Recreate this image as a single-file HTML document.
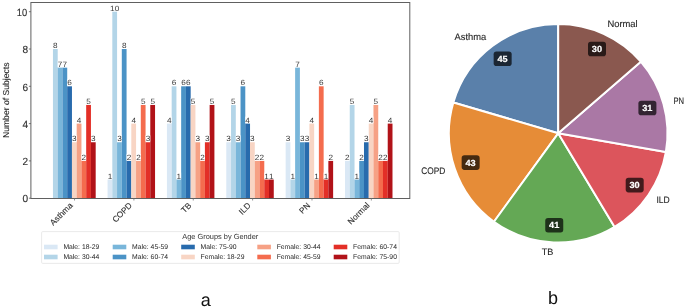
<!DOCTYPE html><html><head><meta charset="utf-8"><style>
html,body{margin:0;padding:0;background:#fff;width:685px;height:307px;overflow:hidden}
svg{display:block;will-change:transform}text{font-family:"Liberation Sans", sans-serif;text-rendering:geometricPrecision}
</style></head><body>
<svg width="685" height="307" viewBox="0 0 685 307">
<rect width="685" height="307" fill="#fff"/>
<rect x="52.95" y="49.00" width="4.767" height="149.20" fill="#b3d5e8"/>
<rect x="57.69" y="67.65" width="4.767" height="130.55" fill="#79b6da"/>
<rect x="62.44" y="67.65" width="4.767" height="130.55" fill="#4b93c6"/>
<rect x="67.19" y="86.30" width="4.767" height="111.90" fill="#286bad"/>
<rect x="71.94" y="142.25" width="4.767" height="55.95" fill="#f8d5c4"/>
<rect x="76.68" y="123.60" width="4.767" height="74.60" fill="#f6a185"/>
<rect x="81.43" y="160.90" width="4.767" height="37.30" fill="#f46c4e"/>
<rect x="86.18" y="104.95" width="4.767" height="93.25" fill="#e32f27"/>
<rect x="90.92" y="142.25" width="4.767" height="55.95" fill="#b11218"/>
<rect x="107.56" y="179.55" width="4.767" height="18.65" fill="#dae8f5"/>
<rect x="112.31" y="11.70" width="4.767" height="186.50" fill="#b3d5e8"/>
<rect x="117.05" y="142.25" width="4.767" height="55.95" fill="#79b6da"/>
<rect x="121.80" y="49.00" width="4.767" height="149.20" fill="#4b93c6"/>
<rect x="126.55" y="160.90" width="4.767" height="37.30" fill="#286bad"/>
<rect x="131.30" y="123.60" width="4.767" height="74.60" fill="#f8d5c4"/>
<rect x="136.04" y="160.90" width="4.767" height="37.30" fill="#f6a185"/>
<rect x="140.79" y="104.95" width="4.767" height="93.25" fill="#f46c4e"/>
<rect x="145.54" y="142.25" width="4.767" height="55.95" fill="#e32f27"/>
<rect x="150.28" y="104.95" width="4.767" height="93.25" fill="#b11218"/>
<rect x="166.92" y="123.60" width="4.767" height="74.60" fill="#dae8f5"/>
<rect x="171.67" y="86.30" width="4.767" height="111.90" fill="#b3d5e8"/>
<rect x="176.41" y="179.55" width="4.767" height="18.65" fill="#79b6da"/>
<rect x="181.16" y="86.30" width="4.767" height="111.90" fill="#4b93c6"/>
<rect x="185.91" y="86.30" width="4.767" height="111.90" fill="#286bad"/>
<rect x="190.66" y="104.95" width="4.767" height="93.25" fill="#f8d5c4"/>
<rect x="195.40" y="142.25" width="4.767" height="55.95" fill="#f6a185"/>
<rect x="200.15" y="160.90" width="4.767" height="37.30" fill="#f46c4e"/>
<rect x="204.90" y="142.25" width="4.767" height="55.95" fill="#e32f27"/>
<rect x="209.64" y="104.95" width="4.767" height="93.25" fill="#b11218"/>
<rect x="226.28" y="142.25" width="4.767" height="55.95" fill="#dae8f5"/>
<rect x="231.03" y="104.95" width="4.767" height="93.25" fill="#b3d5e8"/>
<rect x="235.77" y="142.25" width="4.767" height="55.95" fill="#79b6da"/>
<rect x="240.52" y="86.30" width="4.767" height="111.90" fill="#4b93c6"/>
<rect x="245.27" y="123.60" width="4.767" height="74.60" fill="#286bad"/>
<rect x="250.01" y="142.25" width="4.767" height="55.95" fill="#f8d5c4"/>
<rect x="254.76" y="160.90" width="4.767" height="37.30" fill="#f6a185"/>
<rect x="259.51" y="160.90" width="4.767" height="37.30" fill="#f46c4e"/>
<rect x="264.26" y="179.55" width="4.767" height="18.65" fill="#e32f27"/>
<rect x="269.00" y="179.55" width="4.767" height="18.65" fill="#b11218"/>
<rect x="285.64" y="142.25" width="4.767" height="55.95" fill="#dae8f5"/>
<rect x="290.39" y="179.55" width="4.767" height="18.65" fill="#b3d5e8"/>
<rect x="295.13" y="67.65" width="4.767" height="130.55" fill="#79b6da"/>
<rect x="299.88" y="142.25" width="4.767" height="55.95" fill="#4b93c6"/>
<rect x="304.63" y="142.25" width="4.767" height="55.95" fill="#286bad"/>
<rect x="309.38" y="123.60" width="4.767" height="74.60" fill="#f8d5c4"/>
<rect x="314.12" y="179.55" width="4.767" height="18.65" fill="#f6a185"/>
<rect x="318.87" y="86.30" width="4.767" height="111.90" fill="#f46c4e"/>
<rect x="323.62" y="179.55" width="4.767" height="18.65" fill="#e32f27"/>
<rect x="328.36" y="160.90" width="4.767" height="37.30" fill="#b11218"/>
<rect x="345.00" y="160.90" width="4.767" height="37.30" fill="#dae8f5"/>
<rect x="349.75" y="104.95" width="4.767" height="93.25" fill="#b3d5e8"/>
<rect x="354.49" y="179.55" width="4.767" height="18.65" fill="#79b6da"/>
<rect x="359.24" y="160.90" width="4.767" height="37.30" fill="#4b93c6"/>
<rect x="363.99" y="142.25" width="4.767" height="55.95" fill="#286bad"/>
<rect x="368.74" y="123.60" width="4.767" height="74.60" fill="#f8d5c4"/>
<rect x="373.48" y="104.95" width="4.767" height="93.25" fill="#f6a185"/>
<rect x="378.23" y="160.90" width="4.767" height="37.30" fill="#f46c4e"/>
<rect x="382.98" y="160.90" width="4.767" height="37.30" fill="#e32f27"/>
<rect x="387.72" y="123.60" width="4.767" height="74.60" fill="#b11218"/>
<rect x="53.02" y="42.00" width="4.60" height="6.30" fill="#fff"/>
<text transform="translate(55.32,48.00) scale(1.08,1)" font-size="7.6" fill="#3a3a3a" text-anchor="middle">8</text>
<rect x="57.77" y="60.65" width="4.60" height="6.30" fill="#fff"/>
<text transform="translate(60.07,66.65) scale(1.08,1)" font-size="7.6" fill="#3a3a3a" text-anchor="middle">7</text>
<rect x="62.51" y="60.65" width="4.60" height="6.30" fill="#fff"/>
<text transform="translate(64.81,66.65) scale(1.08,1)" font-size="7.6" fill="#3a3a3a" text-anchor="middle">7</text>
<rect x="67.26" y="79.30" width="4.60" height="6.30" fill="#fff"/>
<text transform="translate(69.56,85.30) scale(1.08,1)" font-size="7.6" fill="#3a3a3a" text-anchor="middle">6</text>
<rect x="72.01" y="135.25" width="4.60" height="6.30" fill="#fff"/>
<text transform="translate(74.31,141.25) scale(1.08,1)" font-size="7.6" fill="#3a3a3a" text-anchor="middle">3</text>
<rect x="76.76" y="116.60" width="4.60" height="6.30" fill="#fff"/>
<text transform="translate(79.06,122.60) scale(1.08,1)" font-size="7.6" fill="#3a3a3a" text-anchor="middle">4</text>
<rect x="81.50" y="153.90" width="4.60" height="6.30" fill="#fff"/>
<text transform="translate(83.80,159.90) scale(1.08,1)" font-size="7.6" fill="#3a3a3a" text-anchor="middle">2</text>
<rect x="86.25" y="97.95" width="4.60" height="6.30" fill="#fff"/>
<text transform="translate(88.55,103.95) scale(1.08,1)" font-size="7.6" fill="#3a3a3a" text-anchor="middle">5</text>
<rect x="91.00" y="135.25" width="4.60" height="6.30" fill="#fff"/>
<text transform="translate(93.30,141.25) scale(1.08,1)" font-size="7.6" fill="#3a3a3a" text-anchor="middle">3</text>
<rect x="107.63" y="172.55" width="4.60" height="6.30" fill="#fff"/>
<text transform="translate(109.93,178.55) scale(1.08,1)" font-size="7.6" fill="#3a3a3a" text-anchor="middle">1</text>
<rect x="110.58" y="4.70" width="8.20" height="6.30" fill="#fff"/>
<text transform="translate(114.68,10.70) scale(1.08,1)" font-size="7.6" fill="#3a3a3a" text-anchor="middle">10</text>
<rect x="117.13" y="135.25" width="4.60" height="6.30" fill="#fff"/>
<text transform="translate(119.43,141.25) scale(1.08,1)" font-size="7.6" fill="#3a3a3a" text-anchor="middle">3</text>
<rect x="121.87" y="42.00" width="4.60" height="6.30" fill="#fff"/>
<text transform="translate(124.17,48.00) scale(1.08,1)" font-size="7.6" fill="#3a3a3a" text-anchor="middle">8</text>
<rect x="126.62" y="153.90" width="4.60" height="6.30" fill="#fff"/>
<text transform="translate(128.92,159.90) scale(1.08,1)" font-size="7.6" fill="#3a3a3a" text-anchor="middle">2</text>
<rect x="131.37" y="116.60" width="4.60" height="6.30" fill="#fff"/>
<text transform="translate(133.67,122.60) scale(1.08,1)" font-size="7.6" fill="#3a3a3a" text-anchor="middle">4</text>
<rect x="136.12" y="153.90" width="4.60" height="6.30" fill="#fff"/>
<text transform="translate(138.42,159.90) scale(1.08,1)" font-size="7.6" fill="#3a3a3a" text-anchor="middle">2</text>
<rect x="140.86" y="97.95" width="4.60" height="6.30" fill="#fff"/>
<text transform="translate(143.16,103.95) scale(1.08,1)" font-size="7.6" fill="#3a3a3a" text-anchor="middle">5</text>
<rect x="145.61" y="135.25" width="4.60" height="6.30" fill="#fff"/>
<text transform="translate(147.91,141.25) scale(1.08,1)" font-size="7.6" fill="#3a3a3a" text-anchor="middle">3</text>
<rect x="150.36" y="97.95" width="4.60" height="6.30" fill="#fff"/>
<text transform="translate(152.66,103.95) scale(1.08,1)" font-size="7.6" fill="#3a3a3a" text-anchor="middle">5</text>
<rect x="166.99" y="116.60" width="4.60" height="6.30" fill="#fff"/>
<text transform="translate(169.29,122.60) scale(1.08,1)" font-size="7.6" fill="#3a3a3a" text-anchor="middle">4</text>
<rect x="171.74" y="79.30" width="4.60" height="6.30" fill="#fff"/>
<text transform="translate(174.04,85.30) scale(1.08,1)" font-size="7.6" fill="#3a3a3a" text-anchor="middle">6</text>
<rect x="176.49" y="172.55" width="4.60" height="6.30" fill="#fff"/>
<text transform="translate(178.79,178.55) scale(1.08,1)" font-size="7.6" fill="#3a3a3a" text-anchor="middle">1</text>
<rect x="181.23" y="79.30" width="4.60" height="6.30" fill="#fff"/>
<text transform="translate(183.53,85.30) scale(1.08,1)" font-size="7.6" fill="#3a3a3a" text-anchor="middle">6</text>
<rect x="185.98" y="79.30" width="4.60" height="6.30" fill="#fff"/>
<text transform="translate(188.28,85.30) scale(1.08,1)" font-size="7.6" fill="#3a3a3a" text-anchor="middle">6</text>
<rect x="190.73" y="97.95" width="4.60" height="6.30" fill="#fff"/>
<text transform="translate(193.03,103.95) scale(1.08,1)" font-size="7.6" fill="#3a3a3a" text-anchor="middle">5</text>
<rect x="195.48" y="135.25" width="4.60" height="6.30" fill="#fff"/>
<text transform="translate(197.78,141.25) scale(1.08,1)" font-size="7.6" fill="#3a3a3a" text-anchor="middle">3</text>
<rect x="200.22" y="153.90" width="4.60" height="6.30" fill="#fff"/>
<text transform="translate(202.52,159.90) scale(1.08,1)" font-size="7.6" fill="#3a3a3a" text-anchor="middle">2</text>
<rect x="204.97" y="135.25" width="4.60" height="6.30" fill="#fff"/>
<text transform="translate(207.27,141.25) scale(1.08,1)" font-size="7.6" fill="#3a3a3a" text-anchor="middle">3</text>
<rect x="209.72" y="97.95" width="4.60" height="6.30" fill="#fff"/>
<text transform="translate(212.02,103.95) scale(1.08,1)" font-size="7.6" fill="#3a3a3a" text-anchor="middle">5</text>
<rect x="226.35" y="135.25" width="4.60" height="6.30" fill="#fff"/>
<text transform="translate(228.65,141.25) scale(1.08,1)" font-size="7.6" fill="#3a3a3a" text-anchor="middle">3</text>
<rect x="231.10" y="97.95" width="4.60" height="6.30" fill="#fff"/>
<text transform="translate(233.40,103.95) scale(1.08,1)" font-size="7.6" fill="#3a3a3a" text-anchor="middle">5</text>
<rect x="235.85" y="135.25" width="4.60" height="6.30" fill="#fff"/>
<text transform="translate(238.15,141.25) scale(1.08,1)" font-size="7.6" fill="#3a3a3a" text-anchor="middle">3</text>
<rect x="240.59" y="79.30" width="4.60" height="6.30" fill="#fff"/>
<text transform="translate(242.89,85.30) scale(1.08,1)" font-size="7.6" fill="#3a3a3a" text-anchor="middle">6</text>
<rect x="245.34" y="116.60" width="4.60" height="6.30" fill="#fff"/>
<text transform="translate(247.64,122.60) scale(1.08,1)" font-size="7.6" fill="#3a3a3a" text-anchor="middle">4</text>
<rect x="250.09" y="135.25" width="4.60" height="6.30" fill="#fff"/>
<text transform="translate(252.39,141.25) scale(1.08,1)" font-size="7.6" fill="#3a3a3a" text-anchor="middle">3</text>
<rect x="254.84" y="153.90" width="4.60" height="6.30" fill="#fff"/>
<text transform="translate(257.14,159.90) scale(1.08,1)" font-size="7.6" fill="#3a3a3a" text-anchor="middle">2</text>
<rect x="259.58" y="153.90" width="4.60" height="6.30" fill="#fff"/>
<text transform="translate(261.88,159.90) scale(1.08,1)" font-size="7.6" fill="#3a3a3a" text-anchor="middle">2</text>
<rect x="264.33" y="172.55" width="4.60" height="6.30" fill="#fff"/>
<text transform="translate(266.63,178.55) scale(1.08,1)" font-size="7.6" fill="#3a3a3a" text-anchor="middle">1</text>
<rect x="269.08" y="172.55" width="4.60" height="6.30" fill="#fff"/>
<text transform="translate(271.38,178.55) scale(1.08,1)" font-size="7.6" fill="#3a3a3a" text-anchor="middle">1</text>
<rect x="285.71" y="135.25" width="4.60" height="6.30" fill="#fff"/>
<text transform="translate(288.01,141.25) scale(1.08,1)" font-size="7.6" fill="#3a3a3a" text-anchor="middle">3</text>
<rect x="290.46" y="172.55" width="4.60" height="6.30" fill="#fff"/>
<text transform="translate(292.76,178.55) scale(1.08,1)" font-size="7.6" fill="#3a3a3a" text-anchor="middle">1</text>
<rect x="295.21" y="60.65" width="4.60" height="6.30" fill="#fff"/>
<text transform="translate(297.51,66.65) scale(1.08,1)" font-size="7.6" fill="#3a3a3a" text-anchor="middle">7</text>
<rect x="299.95" y="135.25" width="4.60" height="6.30" fill="#fff"/>
<text transform="translate(302.25,141.25) scale(1.08,1)" font-size="7.6" fill="#3a3a3a" text-anchor="middle">3</text>
<rect x="304.70" y="135.25" width="4.60" height="6.30" fill="#fff"/>
<text transform="translate(307.00,141.25) scale(1.08,1)" font-size="7.6" fill="#3a3a3a" text-anchor="middle">3</text>
<rect x="309.45" y="116.60" width="4.60" height="6.30" fill="#fff"/>
<text transform="translate(311.75,122.60) scale(1.08,1)" font-size="7.6" fill="#3a3a3a" text-anchor="middle">4</text>
<rect x="314.20" y="172.55" width="4.60" height="6.30" fill="#fff"/>
<text transform="translate(316.50,178.55) scale(1.08,1)" font-size="7.6" fill="#3a3a3a" text-anchor="middle">1</text>
<rect x="318.94" y="79.30" width="4.60" height="6.30" fill="#fff"/>
<text transform="translate(321.24,85.30) scale(1.08,1)" font-size="7.6" fill="#3a3a3a" text-anchor="middle">6</text>
<rect x="323.69" y="172.55" width="4.60" height="6.30" fill="#fff"/>
<text transform="translate(325.99,178.55) scale(1.08,1)" font-size="7.6" fill="#3a3a3a" text-anchor="middle">1</text>
<rect x="328.44" y="153.90" width="4.60" height="6.30" fill="#fff"/>
<text transform="translate(330.74,159.90) scale(1.08,1)" font-size="7.6" fill="#3a3a3a" text-anchor="middle">2</text>
<rect x="345.07" y="153.90" width="4.60" height="6.30" fill="#fff"/>
<text transform="translate(347.37,159.90) scale(1.08,1)" font-size="7.6" fill="#3a3a3a" text-anchor="middle">2</text>
<rect x="349.82" y="97.95" width="4.60" height="6.30" fill="#fff"/>
<text transform="translate(352.12,103.95) scale(1.08,1)" font-size="7.6" fill="#3a3a3a" text-anchor="middle">5</text>
<rect x="354.57" y="172.55" width="4.60" height="6.30" fill="#fff"/>
<text transform="translate(356.87,178.55) scale(1.08,1)" font-size="7.6" fill="#3a3a3a" text-anchor="middle">1</text>
<rect x="359.31" y="153.90" width="4.60" height="6.30" fill="#fff"/>
<text transform="translate(361.61,159.90) scale(1.08,1)" font-size="7.6" fill="#3a3a3a" text-anchor="middle">2</text>
<rect x="364.06" y="135.25" width="4.60" height="6.30" fill="#fff"/>
<text transform="translate(366.36,141.25) scale(1.08,1)" font-size="7.6" fill="#3a3a3a" text-anchor="middle">3</text>
<rect x="368.81" y="116.60" width="4.60" height="6.30" fill="#fff"/>
<text transform="translate(371.11,122.60) scale(1.08,1)" font-size="7.6" fill="#3a3a3a" text-anchor="middle">4</text>
<rect x="373.56" y="97.95" width="4.60" height="6.30" fill="#fff"/>
<text transform="translate(375.86,103.95) scale(1.08,1)" font-size="7.6" fill="#3a3a3a" text-anchor="middle">5</text>
<rect x="378.30" y="153.90" width="4.60" height="6.30" fill="#fff"/>
<text transform="translate(380.60,159.90) scale(1.08,1)" font-size="7.6" fill="#3a3a3a" text-anchor="middle">2</text>
<rect x="383.05" y="153.90" width="4.60" height="6.30" fill="#fff"/>
<text transform="translate(385.35,159.90) scale(1.08,1)" font-size="7.6" fill="#3a3a3a" text-anchor="middle">2</text>
<rect x="387.80" y="116.60" width="4.60" height="6.30" fill="#fff"/>
<text transform="translate(390.10,122.60) scale(1.08,1)" font-size="7.6" fill="#3a3a3a" text-anchor="middle">4</text>
<rect x="30.90" y="2.50" width="378.90" height="196.00" fill="none" stroke="#606060" stroke-width="1"/>
<line x1="28.90" y1="198.20" x2="30.90" y2="198.20" stroke="#555" stroke-width="0.8"/>
<text transform="translate(28.2,202.40) scale(0.97,1)" font-size="10.4" fill="#333" stroke="#333" stroke-width="0.15" text-anchor="end">0</text>
<line x1="28.90" y1="160.90" x2="30.90" y2="160.90" stroke="#555" stroke-width="0.8"/>
<text transform="translate(28.2,165.10) scale(0.97,1)" font-size="10.4" fill="#333" stroke="#333" stroke-width="0.15" text-anchor="end">2</text>
<line x1="28.90" y1="123.60" x2="30.90" y2="123.60" stroke="#555" stroke-width="0.8"/>
<text transform="translate(28.2,127.80) scale(0.97,1)" font-size="10.4" fill="#333" stroke="#333" stroke-width="0.15" text-anchor="end">4</text>
<line x1="28.90" y1="86.30" x2="30.90" y2="86.30" stroke="#555" stroke-width="0.8"/>
<text transform="translate(28.2,90.50) scale(0.97,1)" font-size="10.4" fill="#333" stroke="#333" stroke-width="0.15" text-anchor="end">6</text>
<line x1="28.90" y1="49.00" x2="30.90" y2="49.00" stroke="#555" stroke-width="0.8"/>
<text transform="translate(28.2,53.20) scale(0.97,1)" font-size="10.4" fill="#333" stroke="#333" stroke-width="0.15" text-anchor="end">8</text>
<line x1="28.90" y1="11.70" x2="30.90" y2="11.70" stroke="#555" stroke-width="0.8"/>
<text transform="translate(27.2,15.90) scale(0.9,1)" font-size="10.4" fill="#333" stroke="#333" stroke-width="0.15" text-anchor="end">10</text>
<text transform="translate(8.6,100.3) rotate(-90)" font-size="8.6" fill="#2a2a2a" stroke="#2a2a2a" stroke-width="0.1" text-anchor="middle">Number of Subjects</text>
<line x1="74.53" y1="198.50" x2="74.53" y2="200.50" stroke="#777" stroke-width="0.8"/>
<text transform="translate(73.23,206.00) rotate(-45)" font-size="8.3" fill="#333" stroke="#333" stroke-width="0.12" text-anchor="end">Asthma</text>
<line x1="133.90" y1="198.50" x2="133.90" y2="200.50" stroke="#777" stroke-width="0.8"/>
<text transform="translate(132.59,206.00) rotate(-45)" font-size="8.3" fill="#333" stroke="#333" stroke-width="0.12" text-anchor="end">COPD</text>
<line x1="193.26" y1="198.50" x2="193.26" y2="200.50" stroke="#777" stroke-width="0.8"/>
<text transform="translate(191.96,206.00) rotate(-45)" font-size="8.3" fill="#333" stroke="#333" stroke-width="0.12" text-anchor="end">TB</text>
<line x1="252.61" y1="198.50" x2="252.61" y2="200.50" stroke="#777" stroke-width="0.8"/>
<text transform="translate(251.31,206.00) rotate(-45)" font-size="8.3" fill="#333" stroke="#333" stroke-width="0.12" text-anchor="end">ILD</text>
<line x1="311.98" y1="198.50" x2="311.98" y2="200.50" stroke="#777" stroke-width="0.8"/>
<text transform="translate(310.68,206.00) rotate(-45)" font-size="8.3" fill="#333" stroke="#333" stroke-width="0.12" text-anchor="end">PN</text>
<line x1="371.34" y1="198.50" x2="371.34" y2="200.50" stroke="#777" stroke-width="0.8"/>
<text transform="translate(370.04,206.00) rotate(-45)" font-size="8.3" fill="#333" stroke="#333" stroke-width="0.12" text-anchor="end">Normal</text>
<rect x="41.6" y="231.6" width="357.6" height="31.8" rx="1.2" ry="1.2" fill="#fff" stroke="#e4e4e4" stroke-width="0.8"/>
<text x="220.3" y="239.2" font-size="7.4" fill="#333" text-anchor="middle">Age Groups by Gender</text>
<rect x="44.00" y="244.70" width="13.6" height="4.6" fill="#dae8f5"/>
<text x="63.40" y="249.00" font-size="6.8" fill="#262626">Male: 18-29</text>
<rect x="44.00" y="254.70" width="13.6" height="4.6" fill="#b3d5e8"/>
<text x="63.40" y="259.00" font-size="6.8" fill="#262626">Male: 30-44</text>
<rect x="112.70" y="244.70" width="13.6" height="4.6" fill="#79b6da"/>
<text x="132.10" y="249.00" font-size="6.8" fill="#262626">Male: 45-59</text>
<rect x="112.70" y="254.70" width="13.6" height="4.6" fill="#4b93c6"/>
<text x="132.10" y="259.00" font-size="6.8" fill="#262626">Male: 60-74</text>
<rect x="181.20" y="244.70" width="13.6" height="4.6" fill="#286bad"/>
<text x="200.60" y="249.00" font-size="6.8" fill="#262626">Male: 75-90</text>
<rect x="181.20" y="254.70" width="13.6" height="4.6" fill="#f8d5c4"/>
<text x="200.60" y="259.00" font-size="6.8" fill="#262626">Female: 18-29</text>
<rect x="257.30" y="244.70" width="13.6" height="4.6" fill="#f6a185"/>
<text x="276.70" y="249.00" font-size="6.8" fill="#262626">Female: 30-44</text>
<rect x="257.30" y="254.70" width="13.6" height="4.6" fill="#f46c4e"/>
<text x="276.70" y="259.00" font-size="6.8" fill="#262626">Female: 45-59</text>
<rect x="333.70" y="244.70" width="13.6" height="4.6" fill="#e32f27"/>
<text x="353.10" y="249.00" font-size="6.8" fill="#262626">Female: 60-74</text>
<rect x="333.70" y="254.70" width="13.6" height="4.6" fill="#b11218"/>
<text x="353.10" y="259.00" font-size="6.8" fill="#262626">Female: 75-90</text>
<path d="M558.20,133.30 L558.20,24.00 A109.30,109.30 0 0 0 453.33,102.51 Z" fill="#5a80aa" stroke="#fff" stroke-width="2" stroke-linejoin="round"/>
<path d="M558.20,133.30 L453.33,102.51 A109.30,109.30 0 0 0 493.96,221.73 Z" fill="#e68c37" stroke="#fff" stroke-width="2" stroke-linejoin="round"/>
<path d="M558.20,133.30 L493.96,221.73 A109.30,109.30 0 0 0 614.64,226.90 Z" fill="#64a855" stroke="#fff" stroke-width="2" stroke-linejoin="round"/>
<path d="M558.20,133.30 L614.64,226.90 A109.30,109.30 0 0 0 665.90,151.94 Z" fill="#dc555c" stroke="#fff" stroke-width="2" stroke-linejoin="round"/>
<path d="M558.20,133.30 L665.90,151.94 A109.30,109.30 0 0 0 640.80,61.72 Z" fill="#aa78a5" stroke="#fff" stroke-width="2" stroke-linejoin="round"/>
<path d="M558.20,133.30 L640.80,61.72 A109.30,109.30 0 0 0 558.20,24.00 Z" fill="#8a584f" stroke="#fff" stroke-width="2" stroke-linejoin="round"/>
<rect x="493.65" y="51.40" width="18" height="14.6" rx="2.8" ry="2.8" fill="#1b2633"/>
<text x="497.45" y="61.70" font-size="8.8" font-weight="bold" fill="#fff" stroke="#fff" stroke-width="0.2" textLength="10.2" lengthAdjust="spacingAndGlyphs">45</text>
<text x="454.50" y="40.20" font-size="9.5" fill="#262626" stroke="#262626" stroke-width="0.12" textLength="31.70" lengthAdjust="spacingAndGlyphs">Asthma</text>
<rect x="461.65" y="155.30" width="18" height="14.6" rx="2.8" ry="2.8" fill="#452a10"/>
<text x="465.45" y="165.60" font-size="8.8" font-weight="bold" fill="#fff" stroke="#fff" stroke-width="0.2" textLength="10.2" lengthAdjust="spacingAndGlyphs">43</text>
<text x="421.30" y="174.20" font-size="9.5" fill="#262626" stroke="#262626" stroke-width="0.12" textLength="24.10" lengthAdjust="spacingAndGlyphs">COPD</text>
<rect x="545.25" y="217.95" width="18" height="14.6" rx="2.8" ry="2.8" fill="#1e321a"/>
<text x="549.05" y="228.25" font-size="8.8" font-weight="bold" fill="#fff" stroke="#fff" stroke-width="0.2" textLength="10.2" lengthAdjust="spacingAndGlyphs">41</text>
<text x="541.70" y="254.70" font-size="9.5" fill="#262626" stroke="#262626" stroke-width="0.12" textLength="11.60" lengthAdjust="spacingAndGlyphs">TB</text>
<rect x="625.70" y="177.80" width="18" height="14.6" rx="2.8" ry="2.8" fill="#421a1c"/>
<text x="629.50" y="188.10" font-size="8.8" font-weight="bold" fill="#fff" stroke="#fff" stroke-width="0.2" textLength="10.2" lengthAdjust="spacingAndGlyphs">30</text>
<text x="656.50" y="203.00" font-size="9.5" fill="#262626" stroke="#262626" stroke-width="0.12" textLength="13.30" lengthAdjust="spacingAndGlyphs">ILD</text>
<rect x="638.40" y="100.70" width="18" height="14.6" rx="2.8" ry="2.8" fill="#332432"/>
<text x="642.20" y="111.00" font-size="8.8" font-weight="bold" fill="#fff" stroke="#fff" stroke-width="0.2" textLength="10.2" lengthAdjust="spacingAndGlyphs">31</text>
<text x="673.50" y="103.90" font-size="9.5" fill="#262626" stroke="#262626" stroke-width="0.12" textLength="10.60" lengthAdjust="spacingAndGlyphs">PN</text>
<rect x="588.00" y="41.75" width="18" height="14.6" rx="2.8" ry="2.8" fill="#291a18"/>
<text x="591.80" y="52.05" font-size="8.8" font-weight="bold" fill="#fff" stroke="#fff" stroke-width="0.2" textLength="10.2" lengthAdjust="spacingAndGlyphs">30</text>
<text x="607.40" y="27.30" font-size="9.5" fill="#262626" stroke="#262626" stroke-width="0.12" textLength="30.30" lengthAdjust="spacingAndGlyphs">Normal</text>
<text x="205.8" y="305.9" font-size="18" fill="#111" text-anchor="middle">a</text>
<text x="553.1" y="304.2" font-size="18" fill="#111" text-anchor="middle">b</text>
</svg></body></html>
